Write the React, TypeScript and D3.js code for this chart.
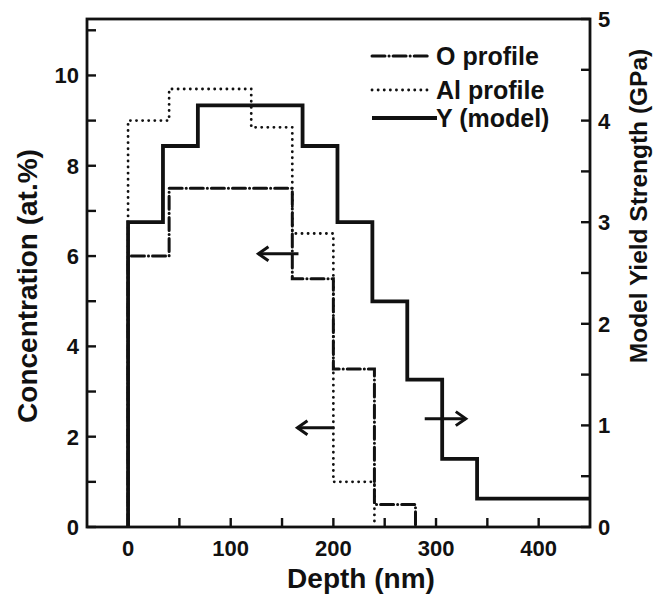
import React from "react";
import * as d3 from "d3";

// ---- data ----
const depthTicks = [0, 100, 200, 300, 400];
const depthMinorTicks = [0, 50, 100, 150, 200, 250, 300, 350, 400];
const concTickLabels = [0, 2, 4, 6, 8, 10];
const concMinorTicks = [0, 1, 2, 3, 4, 5, 6, 7, 8, 9, 10, 11];
const gpaTickLabels = [0, 1, 2, 3, 4, 5];
const gpaMinorTicks = [0, 0.5, 1, 1.5, 2, 2.5, 3, 3.5, 4, 4.5, 5];

// O profile (at.%) – step edges (nm) and values
const oEdges = [0, 40, 160, 200, 240, 280];
const oValues = [6.0, 7.5, 5.5, 3.5, 0.5];
// Al profile (at.%)
const alEdges = [0, 40, 120, 160, 200, 240];
const alValues = [9.0, 9.7, 8.85, 6.5, 1.0];
// Y (model) yield strength (GPa)
const yEdges = [0, 34, 68, 170, 204, 238, 272, 306, 340, 450];
const yValues = [3.0, 3.75, 4.15, 3.75, 3.0, 2.22, 1.45, 0.67, 0.28];

// arrows: [x1, x2, y] in data units (depth nm, concentration at.%)
const arrows = [
  { from: 166, to: 127, y: 6.05 },
  { from: 201, to: 165, y: 2.2 },
  { from: 289, to: 329, y: 2.4 },
];

const DOT = "0.1,6";
const DASHDOT = "13,4,0.1,4";

const legendItems = [
  { label: "O profile", dash: DASHDOT, width: 3, x2: 428, cap: "round" },
  { label: "Al profile", dash: DOT, width: 2.8, x2: 431, cap: "round" },
  { label: "Y (model)", dash: "none", width: 3.8, x2: 437, cap: "butt" },
];
const legendYs = [56, 90, 118];

const FONT = "'Liberation Sans', Arial, Helvetica, sans-serif";

function stepPoints(edges: number[], values: number[], dropToZero: boolean) {
  const pts: [number, number][] = [[edges[0], 0]];
  values.forEach((v, i) => {
    pts.push([edges[i], v]);
    pts.push([edges[i + 1], v]);
  });
  if (dropToZero) pts.push([edges[edges.length - 1], 0]);
  return pts;
}

export default function App() {
  const W = 663;
  const H = 594;
  const left = 87, right = 590, top = 19, bottom = 527;

  const x = d3.scaleLinear().domain([-40, 450]).range([left, right]);
  const yL = d3.scaleLinear().domain([0, 11.25]).range([bottom, top]);
  const yR = d3.scaleLinear().domain([0, 5]).range([bottom, top]);

  const lineL = d3
    .line<[number, number]>()
    .x((d) => x(d[0]))
    .y((d) => yL(d[1]));
  const lineR = d3
    .line<[number, number]>()
    .x((d) => x(d[0]))
    .y((d) => yR(d[1]));

  const oPath = lineL(stepPoints(oEdges, oValues, true)) || "";
  const alPath = lineL(stepPoints(alEdges, alValues, true)) || "";
  const yPath = lineR(stepPoints(yEdges, yValues, false)) || "";

  const tickLen = 9;
  const col = "#111";

  return (
    <svg
      width={W}
      height={H}
      style={{ position: "absolute", left: 0, top: 0, background: "#fff" }}
      fontFamily={FONT}
      fontWeight="bold"
    >
      <defs>
        <clipPath id="plotClip">
          <rect x={left} y={top} width={right - left} height={bottom - top} />
        </clipPath>
      </defs>

      {/* data */}
      <g clipPath="url(#plotClip)" fill="none">
        <path d={alPath} stroke={col} strokeWidth={2.8} strokeDasharray={DOT} strokeLinecap="round" />
        <path d={oPath} stroke={col} strokeWidth={3} strokeDasharray={DASHDOT} strokeLinecap="round" />
        <path d={yPath} stroke={col} strokeWidth={3.8} strokeLinejoin="miter" />
      </g>

      {/* arrows */}
      {arrows.map((a, i) => {
        const x1 = x(a.from);
        const x2 = x(a.to);
        const yy = yL(a.y);
        const dir = x2 > x1 ? 1 : -1;
        return (
          <g key={i} stroke={col} strokeWidth={3} fill="none">
            <line x1={x1} y1={yy} x2={x2} y2={yy} />
            <polyline
              points={`${x2 - dir * 10},${yy - 7} ${x2},${yy} ${x2 - dir * 10},${yy + 7}`}
              strokeLinejoin="miter"
            />
          </g>
        );
      })}

      {/* frame */}
      <rect
        x={left}
        y={top}
        width={right - left}
        height={bottom - top}
        fill="none"
        stroke={col}
        strokeWidth={2.8}
      />

      {/* bottom ticks */}
      {depthMinorTicks.map((t) => (
        <line key={"bx" + t} x1={x(t)} x2={x(t)} y1={bottom} y2={bottom - tickLen} stroke={col} strokeWidth={2.4} />
      ))}
      {depthTicks.map((t) => (
        <text key={"bl" + t} x={x(t)} y={556} textAnchor="middle" fontSize={22} fill={col}>
          {t}
        </text>
      ))}

      {/* left ticks */}
      {concMinorTicks.map((t) => (
        <line key={"lt" + t} x1={left} x2={left + tickLen} y1={yL(t)} y2={yL(t)} stroke={col} strokeWidth={2.4} />
      ))}
      {concTickLabels.map((t) => (
        <text key={"ll" + t} x={79} y={yL(t)} dy="0.36em" textAnchor="end" fontSize={22} fill={col}>
          {t}
        </text>
      ))}

      {/* right ticks */}
      {gpaMinorTicks.map((t) => (
        <line key={"rt" + t} x1={right} x2={right - tickLen} y1={yR(t)} y2={yR(t)} stroke={col} strokeWidth={2.4} />
      ))}
      {gpaTickLabels.map((t) => (
        <text key={"rl" + t} x={598} y={yR(t)} dy="0.36em" textAnchor="start" fontSize={22} fill={col}>
          {t}
        </text>
      ))}

      {/* axis titles */}
      <text x={361} y={588} textAnchor="middle" fontSize={28} fill={col}>
        Depth (nm)
      </text>
      <text
        transform={`translate(37,286) rotate(-90)`}
        textAnchor="middle"
        fontSize={28}
        fill={col}
      >
        Concentration (at.%)
      </text>
      <text
        transform={`translate(647,206) rotate(-90)`}
        textAnchor="middle"
        fontSize={24.5}
        fill={col}
      >
        Model Yield Strength (GPa)
      </text>

      {/* legend */}
      {legendItems.map((it, i) => (
        <g key={it.label}>
          <line
            x1={372}
            x2={it.x2}
            y1={legendYs[i]}
            y2={legendYs[i]}
            stroke={col}
            strokeWidth={it.width}
            strokeDasharray={it.dash}
            strokeLinecap={it.cap as any}
          />
          <text x={436} y={legendYs[i]} dy="0.36em" fontSize={25} fill={col}>
            {it.label}
          </text>
        </g>
      ))}
    </svg>
  );
}
